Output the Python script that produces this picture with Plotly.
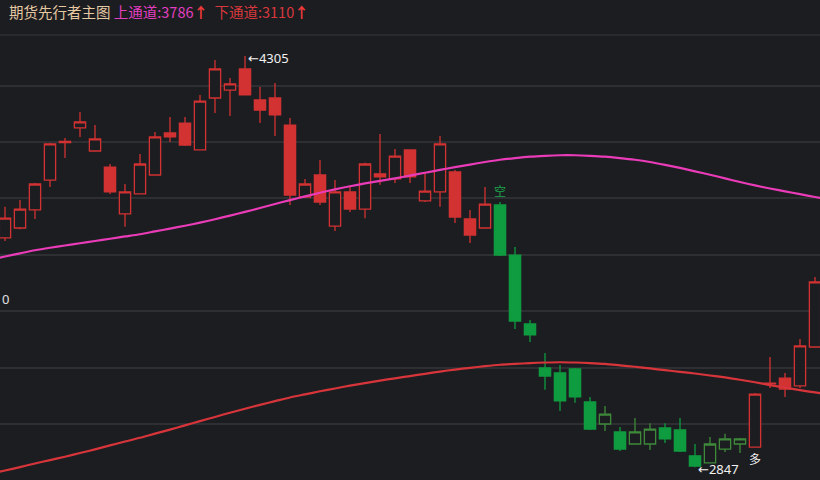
import plotly.graph_objects as go

# candle index (one per bar on screen)
bars = list(range(55))

opens = [3660, 3695, 3759, 3865, 3998, 4050, 3968, 3911, 3745, 3816,
         3883, 4032, 4067, 3972, 4156, 4184, 4259, 4149, 4156, 4060,
         3805, 3883, 3702, 3823, 3762, 3887, 3869, 3972, 3791, 3823,
         3894, 3727, 3695, 3777, 3599, 3355, 3199, 3181, 3195, 3078,
         3000, 2972, 2929, 2929, 2986, 2979, 2887, 2862, 2911, 2929,
         2918, 3142, 3163, 3135, 3273]
highs = [3770, 3794, 3855, 3996, 4014, 4106, 4060, 3922, 3851, 3957,
         4035, 4089, 4089, 4167, 4291, 4227, 4305, 4195, 4209, 4085,
         3869, 3936, 3865, 3844, 3926, 4028, 3975, 3972, 3890, 4021,
         3901, 3759, 3840, 3787, 3628, 3369, 3252, 3209, 3199, 3096,
         3064, 2989, 3021, 3003, 3003, 3021, 2929, 2954, 2965, 2950,
         3110, 3238, 3181, 3301, 3521]
lows = [3649, 3691, 3727, 3840, 3943, 4018, 3968, 3816, 3699, 3816,
        3883, 4000, 3986, 3972, 4103, 4092, 4167, 4067, 4021, 3777,
        3805, 3777, 3684, 3752, 3730, 3848, 3855, 3855, 3787, 3770,
        3713, 3642, 3695, 3596, 3337, 3291, 3121, 3046, 3075, 2979,
        2975, 2904, 2929, 2908, 2933, 2901, 2847, 2862, 2901, 2897,
        2918, 3128, 3096, 3128, 3270]
closes = [3730, 3762, 3851, 3993, 4002, 4071, 4011, 3823, 3823, 3922,
          4018, 4018, 3989, 4145, 4259, 4206, 4167, 4113, 4096, 3812,
          3851, 3787, 3823, 3762, 3922, 3876, 3950, 3876, 3826, 3993,
          3734, 3670, 3780, 3599, 3365, 3316, 3170, 3082, 3096, 2982,
          3035, 2911, 2972, 2982, 2947, 2904, 2851, 2929, 2947, 2947,
          3106, 3145, 3124, 3277, 3504]
# trend state of each bar: 1 = long (red), 0 = short (green)
state = [1] * 33 + [0] * 17 + [1] * 5

# channel lines, one value per bar, from bar -1 to bar 55
line_x = list(range(-1, 56))
upper = [3582, 3594, 3605, 3616, 3625, 3633, 3641, 3649, 3657, 3665,
         3673, 3683, 3693, 3703, 3714, 3726, 3739, 3752, 3766, 3780,
         3794, 3807, 3820, 3832, 3843, 3853, 3862, 3871, 3881, 3891,
         3901, 3911, 3920, 3929, 3937, 3943, 3948, 3951, 3953, 3953,
         3951, 3948, 3943, 3937, 3929, 3919, 3908, 3896, 3884, 3871,
         3858, 3846, 3835, 3825, 3815, 3805, 3795]
lower = [2823, 2835, 2847, 2860, 2872, 2884, 2897, 2910, 2924, 2938,
         2951, 2966, 2980, 2995, 3010, 3025, 3040, 3054, 3068, 3081,
         3094, 3105, 3116, 3126, 3136, 3145, 3154, 3162, 3170, 3178,
         3186, 3193, 3199, 3205, 3210, 3213, 3216, 3218, 3219, 3218,
         3216, 3213, 3208, 3203, 3197, 3191, 3185, 3179, 3172, 3165,
         3157, 3148, 3138, 3129, 3120, 3112, 3104]

upper_last = 3786
lower_last = 3110
high_bar, high_val = 16, 4305
low_bar, low_val = 46, 2847
short_bar = 33
long_bar = 50

BG = "#1c1d21"
GRID = "#2e2f33"
RED = "#d23232"
GREEN = "#0f9b3f"
GREEN_HOLLOW = "#3f8a3a"
PINK = "#ea3cb8"
LOWRED = "#d8353b"

fig = go.Figure()


def add_candles(flag, inc_color, dec_color):
    sel = [i for i in bars if state[i] == flag]
    fig.add_trace(go.Candlestick(
        x=[bars[i] for i in sel],
        open=[opens[i] for i in sel],
        high=[highs[i] for i in sel],
        low=[lows[i] for i in sel],
        close=[closes[i] for i in sel],
        increasing=dict(line=dict(color=inc_color, width=1.3), fillcolor=BG),
        decreasing=dict(line=dict(color=dec_color, width=1.3), fillcolor=dec_color),
        whiskerwidth=0,
        hoverinfo="skip",
        showlegend=False,
    ))


add_candles(1, RED, RED)
add_candles(0, GREEN_HOLLOW, GREEN)

fig.add_trace(go.Scatter(x=line_x, y=upper, mode="lines",
                         line=dict(color=PINK, width=2.2, shape="spline",
                                   smoothing=0.8),
                         hoverinfo="skip", showlegend=False))
fig.add_trace(go.Scatter(x=line_x, y=lower, mode="lines",
                         line=dict(color=LOWRED, width=2.2, shape="spline",
                                   smoothing=0.8),
                         hoverinfo="skip", showlegend=False))

header = ('<span style="color:#e6c9a2">期货先行者主图</span> '
          f'<span style="color:#e23fc0">上通道:{upper_last}</span>'
          '<span style="color:#f03a3a"><b>↑</b></span>  '
          f'<span style="color:#d8383c">下通道:{lower_last}</span>'
          '<span style="color:#f03a3a"><b>↑</b></span>')

annos = [
    dict(xref="paper", yref="paper", x=0.009, y=1.0, yshift=24,
         xanchor="left", yanchor="middle", text=header, showarrow=False,
         font=dict(size=14.5, family="Noto Sans CJK SC")),
    dict(x=high_bar, y=high_val, text=f"←{high_val}", xanchor="left",
         yanchor="middle", xshift=1, yshift=-2, showarrow=False,
         font=dict(size=13, color="#f2f2f2")),
    dict(x=low_bar, y=low_val, text=f"←{low_val}", xanchor="left",
         yanchor="middle", xshift=1, yshift=-2, showarrow=False,
         font=dict(size=13, color="#f2f2f2")),
    dict(x=short_bar, y=highs[short_bar], text="空", yanchor="bottom",
         yshift=1, showarrow=False,
         font=dict(size=12, color="#1aa34a", family="Noto Sans CJK SC")),
    dict(x=long_bar, y=lows[long_bar], text="多", yanchor="top",
         yshift=-1, showarrow=False,
         font=dict(size=12, color="#f2f2f2", family="Noto Sans CJK SC")),
    dict(xref="paper", x=0, y=3443, text="0", xanchor="left",
         yanchor="middle", showarrow=False,
         font=dict(size=13, color="#e0e0e0")),
]

fig.update_layout(
    width=820, height=480,
    margin=dict(l=0, r=0, t=35, b=0),
    paper_bgcolor=BG, plot_bgcolor=BG,
    font=dict(family="Noto Sans, DejaVu Sans, sans-serif"),
    boxgap=0.25, boxgroupgap=0,
    annotations=annos,
    shapes=[dict(type="line", xref="paper", yref="paper", x0=0, x1=1,
                 y0=1, y1=1, line=dict(color=GRID, width=1.5))],
)
fig.update_xaxes(range=[-1 / 3, 54 + 1 / 3], showgrid=False, zeroline=False,
                 showticklabels=False, rangeslider=dict(visible=False),
                 fixedrange=True)
fig.update_yaxes(range=[2801.4, 4379.4], tick0=3000, dtick=200,
                 gridcolor=GRID, gridwidth=1.5, zeroline=False,
                 showticklabels=False, fixedrange=True)

# page has a default 8px body margin; drop it so the figure fills the window
fig.write_html("out.html", config={"displayModeBar": False},
               post_script="document.body.style.margin='0';"
                           "document.body.style.background='#1c1d21';")
